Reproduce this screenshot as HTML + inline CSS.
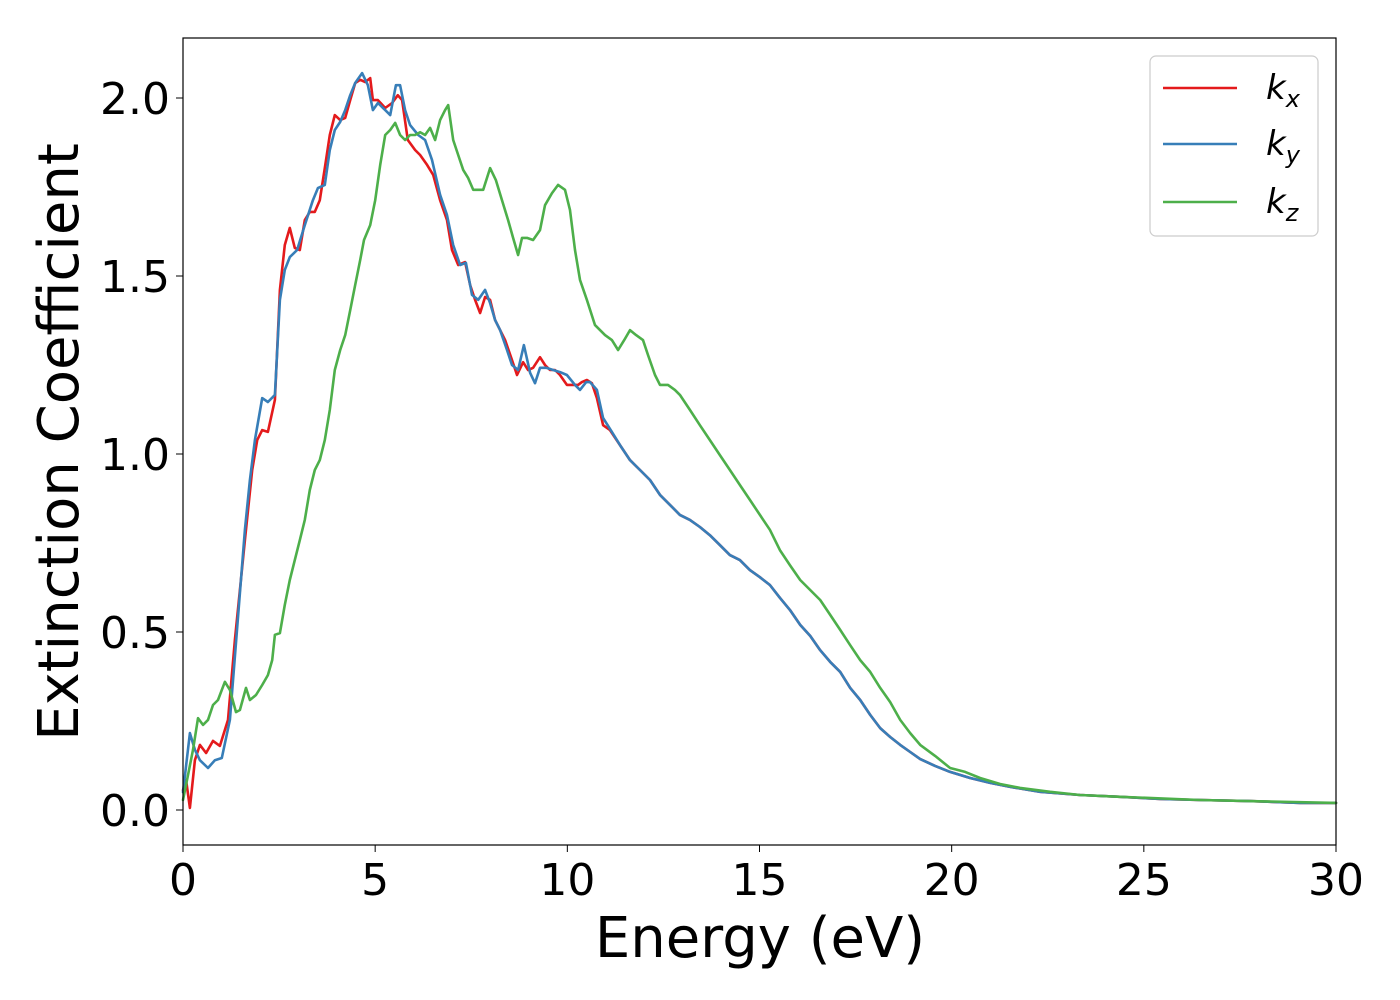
<!DOCTYPE html>
<html><head><meta charset="utf-8"><style>
body{margin:0;background:#fff;}
svg{display:block;font-family:"DejaVu Sans","Liberation Sans",sans-serif;}
</style></head><body>
<svg id="chart" width="1400" height="1000">
<rect width="1400" height="1000" fill="#fff"/>
<g id="series"></g>
<rect x="183" y="38" width="1153" height="807" fill="none" stroke="#000" stroke-width="1.2"/>
<g id="xticks"></g>
<g id="yticks"></g>
<text x="760" y="957" font-size="56" text-anchor="middle">Energy (eV)</text>
<text transform="translate(78,442) rotate(-90)" font-size="56" text-anchor="middle">Extinction Coefficient</text>
<g>
<rect x="1150" y="56" width="168" height="180" rx="6" fill="#fff" stroke="#ccc" stroke-width="1.2"/>
<g><line x1="1163" y1="88" x2="1237" y2="88" stroke="#e41a1c" stroke-width="2.6"/><text x="1266" y="99" font-size="34" font-style="italic">k<tspan font-size="24" dy="8">x</tspan></text></g>
<g><line x1="1163" y1="144" x2="1237" y2="144" stroke="#377eb8" stroke-width="2.6"/><text x="1266" y="155" font-size="34" font-style="italic">k<tspan font-size="24" dy="8">y</tspan></text></g>
<g><line x1="1163" y1="202" x2="1237" y2="202" stroke="#4daf4a" stroke-width="2.6"/><text x="1266" y="213" font-size="34" font-style="italic">k<tspan font-size="24" dy="8">z</tspan></text></g>
</g>
</svg>
<script>
const xTicks=[0,5,10,15,20,25,30];
const yTicks=[0.0,0.5,1.0,1.5,2.0];
const yTickLabels=["0.0","0.5","1.0","1.5","2.0"];
const kxE=[0,.08,.18,.31,.44,.6,.78,.96,1.17,1.35,1.61,1.8,1.93,2.06,2.21,2.39,2.52,2.65,2.78,2.91,3.04,3.17,3.3,3.43,3.56,3.69,3.82,3.95,4.09,4.22,4.35,4.48,4.61,4.74,4.87,4.94,5.07,5.26,5.44,5.59,5.7,5.85,6.04,6.17,6.35,6.51,6.69,6.87,7.0,7.16,7.34,7.47,7.6,7.73,7.86,7.99,8.12,8.25,8.38,8.56,8.69,8.85,8.98,9.11,9.29,9.42,9.55,9.68,9.81,9.99,10.12,10.28,10.38,10.51,10.64,10.77,10.93,11.11,11.37,11.63,11.89,12.15,12.41,12.67,12.93,13.19,13.45,13.71,13.97,14.23,14.49,14.75,15.01,15.27,15.53,15.79,16.06,16.32,16.58,16.84,17.1,17.36,17.62,17.88,18.14,18.4,18.66,18.92,19.18,19.57,19.96,20.48,21.0,21.52,22.3,23.34,24.38,25.42,26.46,27.76,29.07,30];
const kxV=[.056,.084,.006,.14,.183,.16,.194,.18,.253,.478,.758,.955,1.039,1.067,1.062,1.152,1.461,1.587,1.635,1.579,1.573,1.657,1.68,1.68,1.713,1.803,1.896,1.952,1.938,1.944,1.994,2.042,2.051,2.045,2.056,1.994,1.994,1.972,1.986,2.008,1.994,1.882,1.854,1.84,1.812,1.784,1.713,1.657,1.573,1.531,1.539,1.475,1.433,1.396,1.441,1.433,1.376,1.348,1.32,1.264,1.222,1.258,1.236,1.242,1.272,1.25,1.236,1.236,1.222,1.194,1.194,1.194,1.202,1.208,1.199,1.157,1.081,1.067,1.025,.983,.955,.927,.885,.857,.829,.815,.795,.772,.744,.716,.702,.674,.654,.632,.596,.562,.52,.489,.449,.416,.388,.343,.309,.267,.23,.205,.183,.163,.143,.124,.107,.09,.076,.065,.051,.042,.037,.031,.028,.025,.02,.02];
const kyE=[0,.18,.31,.44,.65,.83,1.01,1.22,1.61,1.74,1.87,2.06,2.21,2.39,2.52,2.65,2.78,2.97,3.17,3.38,3.51,3.69,3.82,3.95,4.09,4.22,4.35,4.48,4.66,4.81,4.94,5.07,5.26,5.39,5.54,5.65,5.78,5.91,6.12,6.3,6.48,6.69,6.87,7.03,7.21,7.36,7.52,7.68,7.86,7.99,8.12,8.25,8.43,8.56,8.72,8.87,9.03,9.16,9.29,9.45,9.63,9.81,9.99,10.2,10.33,10.49,10.59,10.77,10.93,11.16,11.37,11.63,11.89,12.15,12.41,12.67,12.93,13.19,13.45,13.71,13.97,14.23,14.49,14.75,15.01,15.27,15.53,15.79,16.06,16.32,16.58,16.84,17.1,17.36,17.62,17.88,18.14,18.4,18.66,18.92,19.18,19.57,19.96,20.48,21.0,21.52,22.3,23.34,24.38,25.42,26.46,27.76,29.07,30];
const kyV=[.05,.216,.169,.14,.118,.14,.146,.253,.787,.927,1.039,1.157,1.146,1.166,1.433,1.517,1.553,1.573,1.643,1.713,1.747,1.756,1.854,1.91,1.933,1.966,2.008,2.042,2.07,2.036,1.966,1.986,1.966,1.952,2.036,2.036,1.966,1.924,1.896,1.882,1.826,1.728,1.671,1.587,1.531,1.537,1.447,1.433,1.461,1.424,1.376,1.348,1.292,1.25,1.236,1.306,1.228,1.199,1.242,1.242,1.236,1.23,1.222,1.194,1.18,1.202,1.202,1.18,1.101,1.062,1.025,.983,.955,.927,.885,.857,.829,.815,.795,.772,.744,.716,.702,.674,.654,.632,.596,.562,.52,.489,.449,.416,.388,.343,.309,.267,.23,.205,.183,.163,.143,.124,.107,.09,.076,.065,.051,.042,.037,.031,.028,.025,.02,.02];
const kzE=[0,.13,.26,.39,.52,.65,.78,.91,1.09,1.22,1.38,1.48,1.64,1.74,1.9,2.06,2.21,2.32,2.39,2.52,2.65,2.78,2.91,3.04,3.17,3.3,3.43,3.56,3.69,3.82,3.95,4.09,4.22,4.35,4.48,4.61,4.71,4.87,5.0,5.13,5.26,5.39,5.52,5.65,5.78,5.91,6.04,6.17,6.3,6.43,6.56,6.69,6.82,6.9,7.03,7.16,7.29,7.42,7.55,7.68,7.81,7.99,8.14,8.3,8.46,8.59,8.72,8.82,8.95,9.11,9.29,9.42,9.6,9.76,9.94,10.07,10.2,10.33,10.51,10.72,10.98,11.16,11.32,11.48,11.63,11.79,11.97,12.1,12.28,12.41,12.62,12.8,12.93,13.19,13.45,13.71,13.97,14.23,14.49,14.75,15.01,15.27,15.53,15.79,16.06,16.32,16.58,16.84,17.1,17.36,17.62,17.88,18.14,18.4,18.66,18.92,19.18,19.57,19.96,20.35,20.74,21.26,21.78,22.56,23.34,24.38,26.46,30];
const kzV=[.028,.098,.169,.258,.239,.253,.295,.309,.36,.337,.275,.281,.343,.309,.323,.351,.379,.421,.492,.497,.576,.646,.702,.758,.815,.899,.955,.983,1.039,1.124,1.236,1.292,1.334,1.404,1.475,1.545,1.601,1.643,1.713,1.812,1.896,1.91,1.93,1.896,1.882,1.896,1.896,1.904,1.896,1.916,1.882,1.938,1.966,1.98,1.882,1.84,1.798,1.775,1.742,1.742,1.742,1.803,1.77,1.713,1.657,1.607,1.559,1.607,1.607,1.601,1.629,1.699,1.733,1.756,1.742,1.685,1.573,1.489,1.433,1.362,1.334,1.32,1.292,1.32,1.348,1.334,1.32,1.278,1.222,1.194,1.194,1.18,1.166,1.124,1.081,1.039,.997,.955,.913,.871,.829,.787,.73,.688,.646,.618,.59,.548,.506,.463,.421,.388,.343,.303,.253,.216,.183,.152,.118,.107,.09,.073,.062,.051,.042,.037,.028,.02];

const NS="http://www.w3.org/2000/svg";
const X0=183,X1=1336,Y0v=810,PX_PER=356;
function xs(e){return X0+(e-0)/(30-0)*(X1-X0);}
function ys(v){return Y0v-v*PX_PER;}
const gS=document.getElementById('series');
function drawSeries(E,V,color,name){
  const p=document.createElementNS(NS,'path');
  let d='';
  for(let i=0;i<E.length;i++){d+=(i?'L':'M')+xs(E[i]).toFixed(1)+' '+ys(V[i]).toFixed(1);}
  p.setAttribute('d',d);p.setAttribute('fill','none');p.setAttribute('stroke',color);
  p.setAttribute('stroke-width','2.6');p.setAttribute('stroke-linejoin','round');p.setAttribute('stroke-linecap','round');
  
  
  gS.appendChild(p);
}
drawSeries(kxE,kxV,'#e41a1c','series-kx');
drawSeries(kyE,kyV,'#377eb8','series-ky');
drawSeries(kzE,kzV,'#4daf4a','series-kz');
const gx=document.getElementById('xticks');
xTicks.forEach(t=>{
  const l=document.createElementNS(NS,'line');
  l.setAttribute('x1',xs(t));l.setAttribute('x2',xs(t));l.setAttribute('y1',845);l.setAttribute('y2',852);l.setAttribute('stroke','#000');
  
  
  gx.appendChild(l);
  const tx=document.createElementNS(NS,'text');
  tx.setAttribute('x',xs(t));tx.setAttribute('y',895);tx.setAttribute('font-size','44');tx.setAttribute('text-anchor','middle');
  tx.textContent=String(t);
  
  
  gx.appendChild(tx);
});
const gy=document.getElementById('yticks');
yTicks.forEach((t,i)=>{
  const l=document.createElementNS(NS,'line');
  l.setAttribute('x1',176);l.setAttribute('x2',183);l.setAttribute('y1',ys(t));l.setAttribute('y2',ys(t));l.setAttribute('stroke','#000');
  
  
  gy.appendChild(l);
  const tx=document.createElementNS(NS,'text');
  tx.setAttribute('x',170);tx.setAttribute('y',ys(t)+16);tx.setAttribute('font-size','44');tx.setAttribute('text-anchor','end');
  tx.textContent=yTickLabels[i];
  
  
  gy.appendChild(tx);
});
</script>
</body></html>
